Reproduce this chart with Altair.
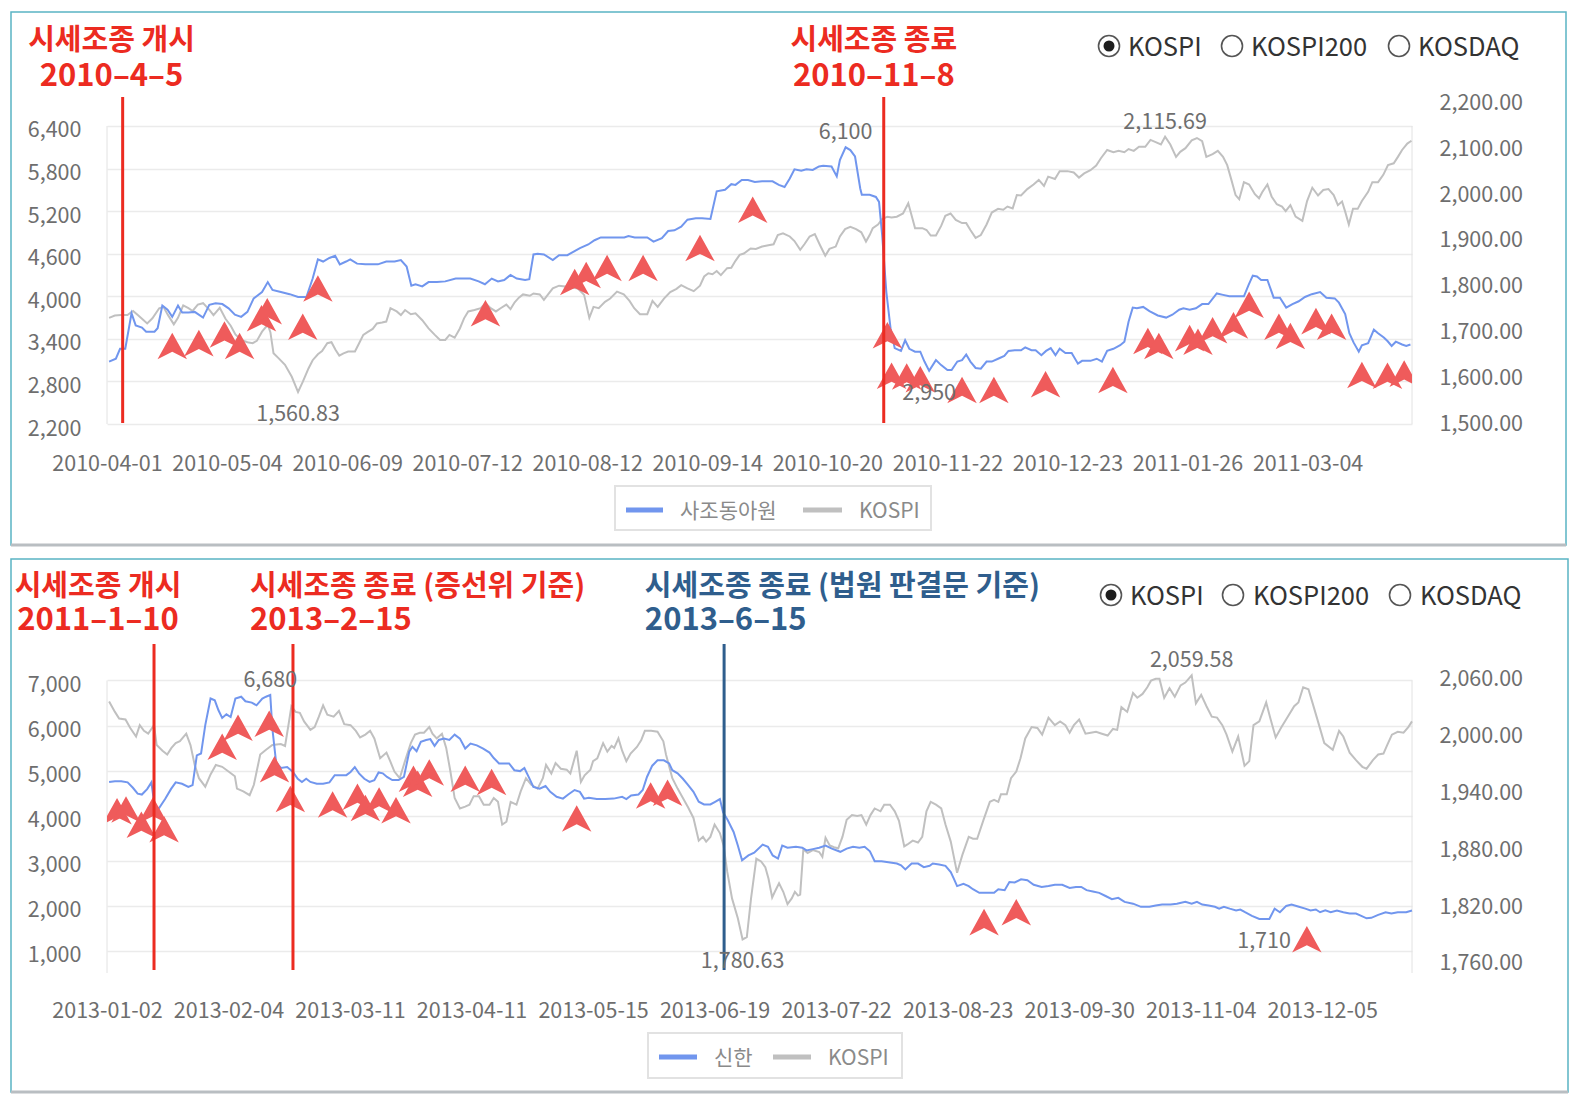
import json
import altair as alt
import pandas as pd

FONT = "Noto Sans CJK KR"
BLUE = "#7196ee"
GRAY = "#c0c0c0"
TRI = "#ef5b5b"
RED = "#ec2b21"
NAVY = "#2f5e8d"
TXT = "#6e6e6e"
FRAME = "#5ab4c4"
W = 1305
ARROW = "M0,-0.9L1,0.9L0,0.4L-1,0.9Z"

# ======================= Panel 1 : 사조동아원 (2010-04 ~ 2011-03) =======================
p1_tick_idx = [0, 23, 46, 69, 92, 115, 138, 161, 184, 207, 230]
p1_tick_lab = ["2010-04-01", "2010-05-04", "2010-06-09", "2010-07-12", "2010-08-12", "2010-09-14",
               "2010-10-20", "2010-11-22", "2010-12-23", "2011-01-26", "2011-03-04"]
p1_left_ticks = [2200, 2800, 3400, 4000, 4600, 5200, 5800, 6400]
p1_right_ticks = [1500, 1600, 1700, 1800, 1900, 2000, 2100, 2200]

p1_stock = [
    (0.4, 3080), (1.7, 3120), (2.5, 3260), (3.5, 3260), (4.7, 3760), (5.5, 3590), (6.7, 3560), (7.5, 3500),
    (9.1, 3500), (9.7, 3550), (10.6, 3870), (11.6, 3810), (12.5, 3710), (13.6, 3870), (14.4, 3770), (15.6, 3770),
    (16.8, 3780), (18.4, 3700), (19.6, 3880), (20.8, 3900), (22.1, 3890), (23.3, 3830), (24.5, 3740), (25.7, 3710),
    (26.9, 3780), (28.1, 3970), (29.7, 4060), (30.8, 4200), (31.7, 4090), (33.3, 4060), (35.0, 4030), (36.6, 3990),
    (38.2, 3990), (39.4, 4250), (40.4, 4520), (41.4, 4490), (42.6, 4540), (43.7, 4570), (44.6, 4450), (45.8, 4490),
    (46.6, 4520), (47.9, 4460), (49.5, 4450), (51.9, 4450), (53.5, 4490), (55.1, 4490), (56.3, 4510), (57.4, 4420),
    (58.3, 4150), (59.1, 4170), (60.4, 4140), (61.6, 4200), (63.2, 4200), (64.8, 4210), (66.8, 4250), (69.6, 4250),
    (71.2, 4210), (72.4, 4170), (73.7, 4250), (74.9, 4210), (76.1, 4230), (77.3, 4300), (78.5, 4250), (80.1, 4230),
    (80.9, 4240), (81.7, 4590), (82.5, 4600), (83.7, 4590), (85.4, 4510), (86.6, 4580), (88.2, 4580), (89.4, 4630),
    (90.6, 4680), (92.2, 4730), (93.4, 4790), (94.6, 4830), (96.2, 4830), (99.1, 4830), (99.9, 4850), (101.1, 4830),
    (103.5, 4830), (104.7, 4770), (106.3, 4820), (107.5, 4920), (108.7, 4930), (110.0, 4980), (111.2, 5080),
    (112.8, 5100), (114.0, 5100), (115.6, 5090), (116.8, 5480), (118.4, 5500), (119.6, 5580), (120.4, 5570),
    (121.6, 5640), (122.8, 5640), (124.1, 5610), (125.5, 5620), (127.5, 5620), (128.7, 5570), (129.8, 5540),
    (130.8, 5660), (131.7, 5790), (133.0, 5770), (134.0, 5790), (135.2, 5780), (136.4, 5830), (137.2, 5840),
    (138.8, 5830), (139.8, 5690), (140.4, 5920), (141.5, 6100), (142.4, 6060), (143.3, 5970), (144.3, 5520),
    (144.6, 5430), (146.1, 5430), (147.3, 5400), (147.9, 5330), (148.5, 4860), (149.3, 4060), (150.1, 3550),
    (150.9, 3270), (152.1, 3230), (152.9, 3380), (153.7, 3260), (154.8, 3220), (155.8, 3220), (156.6, 3080),
    (157.5, 2950), (158.8, 3100), (159.8, 3030), (161.0, 2960), (161.8, 2960), (162.9, 3080), (163.8, 3100),
    (164.6, 3180), (165.4, 3080), (166.4, 2990), (167.4, 2980), (168.5, 3080), (169.5, 3080), (170.7, 3120),
    (171.9, 3160), (172.7, 3230), (173.9, 3240), (175.1, 3240), (175.9, 3280), (177.1, 3240), (177.9, 3240),
    (179.0, 3170), (179.9, 3230), (180.8, 3270), (181.7, 3170), (182.5, 3260), (183.6, 3200), (184.8, 3200),
    (186.0, 3050), (186.8, 3090), (188.4, 3090), (189.6, 3120), (190.6, 3080), (191.6, 3230), (192.8, 3260),
    (194.1, 3310), (194.9, 3360), (195.7, 3640), (196.5, 3840), (197.3, 3830), (198.5, 3850), (199.7, 3790),
    (201.3, 3730), (202.9, 3700), (204.1, 3740), (205.4, 3810), (206.2, 3830), (207.4, 3810), (208.6, 3830),
    (209.8, 3890), (211.0, 3890), (212.6, 4040), (213.8, 4020), (215.0, 4000), (217.8, 4000), (218.7, 4160),
    (219.5, 4290), (220.3, 4280), (221.1, 4230), (222.3, 4230), (223.5, 3980), (224.7, 3980), (225.9, 3840),
    (227.1, 3890), (228.3, 3930), (229.5, 3990), (230.8, 4030), (232.4, 4060), (233.6, 3980), (235.2, 3970),
    (236.0, 3910), (237.2, 3750), (238.0, 3480), (238.8, 3350), (239.8, 3220), (240.4, 3310), (241.6, 3340),
    (242.7, 3530), (243.5, 3480), (244.6, 3420), (245.3, 3370), (246.1, 3300), (246.9, 3360), (248.1, 3320),
    (248.9, 3300), (249.7, 3320),
]

p1_kospi = [
    (0.4, 1722), (1.5, 1727), (2.7, 1728), (3.9, 1728), (5.0, 1737), (5.9, 1728), (6.7, 1720), (7.7, 1710),
    (8.7, 1721), (10.0, 1743), (10.8, 1746), (11.7, 1728), (12.8, 1708), (13.6, 1722), (14.6, 1749), (15.6, 1743),
    (16.4, 1737), (17.4, 1751), (18.4, 1754), (19.5, 1741), (20.4, 1728), (21.6, 1744), (22.7, 1720), (23.7, 1705),
    (24.6, 1686), (25.7, 1674), (26.9, 1669), (27.9, 1667), (28.7, 1672), (29.7, 1692), (30.8, 1707), (31.3, 1691),
    (31.9, 1645), (32.9, 1634), (34.1, 1620), (35.4, 1594), (36.6, 1560.83), (37.5, 1583), (38.6, 1612),
    (39.4, 1630), (40.4, 1643), (41.2, 1650), (42.2, 1667), (43.0, 1669), (43.8, 1652), (44.5, 1640), (45.3, 1645),
    (46.2, 1649), (47.5, 1649), (48.3, 1667), (49.1, 1685), (49.9, 1691), (50.9, 1698), (51.7, 1710), (52.7, 1712),
    (53.5, 1714), (54.3, 1743), (55.5, 1736), (56.3, 1728), (57.1, 1739), (58.2, 1730), (59.1, 1732), (60.4, 1717),
    (61.6, 1699), (62.8, 1685), (63.8, 1674), (64.8, 1674), (65.6, 1685), (66.6, 1679), (67.6, 1699), (68.4, 1721),
    (69.2, 1736), (70.4, 1739), (71.6, 1743), (72.5, 1754), (73.5, 1743), (74.5, 1736), (75.4, 1743), (76.5, 1751),
    (77.3, 1741), (78.1, 1756), (78.9, 1766), (79.7, 1773), (81.0, 1770), (81.7, 1775), (82.9, 1773), (83.7, 1761),
    (84.5, 1773), (85.4, 1786), (86.6, 1792), (87.8, 1790), (89.0, 1788), (90.2, 1786), (91.4, 1772), (92.4, 1722),
    (93.2, 1746), (94.2, 1743), (95.4, 1757), (96.4, 1764), (97.7, 1779), (99.0, 1773), (100.1, 1759),
    (101.0, 1743), (102.1, 1730), (103.5, 1730), (104.5, 1759), (105.5, 1746), (106.7, 1764), (107.9, 1778),
    (109.1, 1785), (110.0, 1793), (111.2, 1786), (112.4, 1780), (113.6, 1792), (114.4, 1812), (115.2, 1819),
    (116.0, 1817), (116.8, 1824), (117.6, 1815), (118.8, 1830), (119.6, 1831), (120.4, 1846), (121.2, 1859),
    (122.0, 1862), (123.3, 1873), (124.3, 1872), (125.5, 1877), (126.7, 1880), (127.7, 1882), (128.5, 1902),
    (129.5, 1906), (130.8, 1899), (131.7, 1889), (132.8, 1870), (133.6, 1882), (134.6, 1899), (135.6, 1904),
    (136.6, 1880), (137.6, 1857), (138.4, 1872), (139.6, 1877), (140.4, 1899), (141.4, 1915), (142.4, 1920),
    (143.5, 1915), (144.5, 1908), (145.4, 1888), (146.1, 1902), (146.7, 1917), (147.7, 1925), (148.5, 1937),
    (149.5, 1942), (150.3, 1940), (151.3, 1942), (152.5, 1949), (153.5, 1971), (154.3, 1938), (154.8, 1917),
    (156.2, 1917), (157.0, 1913), (157.8, 1901), (158.8, 1901), (159.8, 1922), (160.6, 1944), (161.6, 1949),
    (162.6, 1935), (163.8, 1928), (164.6, 1928), (165.4, 1913), (166.4, 1896), (167.4, 1902), (168.5, 1925),
    (169.5, 1951), (170.7, 1959), (171.7, 1957), (172.5, 1964), (173.5, 1960), (174.3, 1989), (175.1, 1988),
    (176.3, 2002), (177.5, 2012), (178.5, 2022), (179.5, 2009), (180.3, 2029), (181.6, 2024), (182.5, 2041),
    (184.0, 2041), (185.2, 2038), (186.2, 2027), (187.2, 2036), (188.4, 2043), (189.5, 2053), (190.4, 2069),
    (191.6, 2087), (192.8, 2082), (193.8, 2085), (194.9, 2082), (195.7, 2089), (196.7, 2085), (197.7, 2094),
    (198.9, 2094), (199.9, 2109), (200.9, 2104), (201.9, 2099), (202.7, 2115.69), (203.7, 2099), (204.8, 2072),
    (205.6, 2083), (206.6, 2091), (207.8, 2108), (208.8, 2113), (209.8, 2106), (210.6, 2072), (211.8, 2078),
    (212.8, 2085), (213.8, 2072), (214.6, 2054), (215.4, 2022), (216.2, 1989), (216.9, 1980), (217.8, 2017),
    (218.8, 2012), (219.9, 1991), (220.7, 1982), (221.3, 1995), (222.3, 2012), (223.1, 1986), (224.1, 1969),
    (225.1, 1964), (225.8, 1954), (226.7, 1967), (227.7, 1942), (229.0, 1933), (229.9, 1976), (230.9, 2005),
    (232.0, 1988), (233.0, 2000), (234.0, 2002), (235.0, 1989), (235.8, 1967), (236.6, 1975), (237.2, 1953),
    (237.9, 1925), (238.7, 1959), (239.6, 1959), (240.4, 1976), (241.6, 1996), (242.4, 2017), (243.5, 2017),
    (244.5, 2033), (245.4, 2054), (246.5, 2058), (247.3, 2072), (248.1, 2087), (249.1, 2101), (249.9, 2107),
]

p1_arrows = [
    (12.5, 3300), (17.6, 3340), (22.5, 3460), (25.4, 3300), (29.6, 3690), (30.7, 3790), (37.5, 3570),
    (40.4, 4110), (72.5, 3760), (89.6, 4200), (91.8, 4300), (95.8, 4400), (102.7, 4400), (113.6, 4680),
    (123.7, 5220), (149.5, 3450), (150.3, 2880), (153.2, 2870), (155.8, 2830), (163.8, 2680), (169.9, 2680),
    (179.8, 2760), (192.7, 2820), (199.4, 3370), (201.5, 3300), (207.4, 3410), (209.0, 3360), (211.8, 3520),
    (215.8, 3590), (218.8, 3880), (224.5, 3570), (226.7, 3440), (231.6, 3650), (234.6, 3570), (240.4, 2890),
    (245.3, 2880), (248.5, 2910),
]
p1_red_lines = [3.0, 148.8]
p1_stock_max = [(141.5, 6100, "6,100")]
p1_stock_min = [(157.5, 2950, "2,950")]
p1_kospi_max = [(202.7, 2115.69, "2,115.69")]
p1_kospi_min = [(36.6, 1560.83, "1,560.83")]
p1_notes = [(0.86, "시세조종 개시", "2010–4–5", RED, "center"),
            (146.9, "시세조종 종료", "2010–11–8", RED, "center")]
p1_series = ["사조동아원", "KOSPI"]

# ======================= Panel 2 : 신한 (2013) =======================
p2_tick_idx = [0, 23, 46, 69, 92, 115, 138, 161, 184, 207, 230]
p2_tick_lab = ["2013-01-02", "2013-02-04", "2013-03-11", "2013-04-11", "2013-05-15", "2013-06-19",
               "2013-07-22", "2013-08-23", "2013-09-30", "2013-11-04", "2013-12-05"]
p2_left_ticks = [1000, 2000, 3000, 4000, 5000, 6000, 7000]
p2_right_ticks = [1760, 1820, 1880, 1940, 2000, 2060]

p2_stock = [
    (0.4, 4750), (1.5, 4765), (2.7, 4765), (3.9, 4740), (4.9, 4620), (5.8, 4490), (6.6, 4470), (7.6, 4590),
    (8.4, 4740), (9.0, 4230), (9.8, 4160), (11.0, 4370), (12.1, 4590), (13.0, 4740), (14.2, 4710), (15.4, 4640),
    (16.2, 4680), (17.0, 5340), (17.8, 5380), (18.6, 6010), (19.6, 6600), (20.4, 6560), (21.1, 6340), (21.8, 6170),
    (22.6, 6250), (23.4, 6190), (24.3, 6600), (25.4, 6640), (26.2, 6540), (27.4, 6510), (28.3, 6450), (29.4, 6600),
    (30.1, 6640), (30.9, 6680), (31.3, 5930), (32.0, 5190), (32.9, 5060), (34.1, 5080), (35.2, 4970), (36.1, 4820),
    (36.9, 4750), (37.7, 4820), (38.5, 4750), (39.7, 4710), (40.9, 4710), (42.1, 4740), (43.1, 4900), (44.1, 4900),
    (45.3, 4900), (46.1, 4970), (46.9, 5080), (47.7, 4940), (48.7, 4820), (49.7, 4750), (50.6, 4790), (51.4, 4960),
    (52.2, 4940), (53.0, 4860), (54.0, 4790), (55.2, 4790), (56.2, 4860), (57.2, 5420), (57.8, 5530), (58.6, 5430),
    (59.4, 5640), (60.4, 5680), (61.2, 5700), (62.0, 5550), (62.8, 5680), (63.8, 5710), (64.8, 5680), (65.8, 5800),
    (66.8, 5710), (67.8, 5490), (68.8, 5600), (70.0, 5560), (71.2, 5490), (72.4, 5400), (73.2, 5280), (74.2, 5160),
    (75.2, 5160), (76.1, 5160), (77.1, 5010), (78.2, 4990), (79.0, 5060), (79.9, 4840), (80.7, 4640), (81.9, 4600),
    (83.0, 4660), (83.9, 4530), (85.1, 4420), (86.3, 4380), (87.3, 4470), (88.5, 4570), (89.5, 4530), (90.3, 4380),
    (91.2, 4400), (92.7, 4370), (94.3, 4370), (95.9, 4380), (97.5, 4420), (98.3, 4370), (99.2, 4450), (100.6, 4470),
    (101.4, 4570), (102.2, 4860), (103.2, 5110), (104.2, 5230), (105.4, 5230), (106.4, 5160), (107.0, 5010),
    (108.0, 4940), (109.0, 4820), (110.0, 4680), (111.0, 4530), (112.0, 4310), (113.0, 4250), (114.2, 4250),
    (115.1, 4310), (116.0, 4370), (116.6, 4080), (117.5, 3900), (118.6, 3640), (119.4, 3340), (120.2, 3010),
    (121.4, 3120), (122.5, 3180), (124.1, 3360), (125.1, 3310), (126.0, 3120), (127.0, 3050), (127.8, 3340),
    (128.8, 3290), (130.4, 3310), (131.6, 3290), (132.4, 3230), (133.6, 3260), (134.8, 3290), (136.0, 3340),
    (137.2, 3270), (138.8, 3200), (140.0, 3270), (141.2, 3310), (142.4, 3290), (143.4, 3310), (144.4, 3210),
    (145.3, 2990), (146.6, 2990), (147.9, 2970), (149.5, 2940), (150.3, 2900), (151.1, 2810), (152.3, 2940),
    (153.5, 2940), (154.6, 2860), (155.7, 2890), (156.3, 2940), (157.5, 2920), (158.7, 2890), (159.7, 2750),
    (160.3, 2600), (160.9, 2440), (162.1, 2490), (163.1, 2440), (163.9, 2370), (165.1, 2290), (166.3, 2290),
    (167.9, 2290), (168.7, 2370), (169.9, 2350), (170.8, 2530), (171.8, 2520), (173.0, 2590), (174.2, 2570),
    (175.4, 2470), (176.9, 2420), (178.2, 2440), (179.4, 2470), (180.8, 2470), (182.2, 2400), (183.4, 2420),
    (184.4, 2420), (185.4, 2350), (186.6, 2320), (187.8, 2290), (189.0, 2220), (190.2, 2150), (191.4, 2180),
    (192.6, 2090), (194.2, 2050), (195.7, 1980), (197.3, 1980), (198.5, 2010), (199.7, 2030), (201.3, 2030),
    (202.5, 2050), (204.1, 2090), (205.3, 2050), (206.3, 2090), (207.3, 2030), (208.5, 2010), (209.7, 1980),
    (210.5, 1940), (211.4, 1980), (212.5, 1940), (213.7, 1900), (214.5, 1920), (215.4, 1860), (216.7, 1780),
    (218.1, 1710), (220.0, 1710), (221.0, 1940), (222.0, 1860), (223.2, 2000), (224.2, 2030), (225.6, 1980),
    (226.8, 1940), (227.8, 1900), (228.8, 1920), (229.6, 1860), (230.6, 1900), (231.6, 1860), (232.8, 1900),
    (234.0, 1860), (235.2, 1830), (236.4, 1830), (237.4, 1780), (238.4, 1725), (239.3, 1735), (240.6, 1800),
    (242.0, 1860), (243.1, 1830), (244.3, 1860), (245.9, 1860), (247.0, 1900),
]

p2_kospi = [
    (0.4, 2032), (1.5, 2021), (2.3, 2014), (3.5, 2013), (4.4, 2004), (5.5, 1995), (6.2, 2007), (7.0, 2001),
    (7.8, 1998), (8.9, 2007), (9.4, 1986), (10.5, 1980), (11.4, 1976), (12.2, 1983), (13.0, 1988), (13.8, 1990),
    (15.0, 1998), (15.8, 1986), (16.6, 1965), (17.4, 1951), (18.6, 1942), (19.6, 1955), (20.6, 1965), (21.8, 1963),
    (23.0, 1958), (24.2, 1953), (24.6, 1940), (25.8, 1937), (27.0, 1933), (27.8, 1944), (29.0, 1976), (30.1, 1981),
    (31.3, 1986), (32.9, 1987), (33.7, 1985), (34.4, 2009), (34.9, 2027), (35.7, 2021), (36.5, 2020), (37.3, 2011),
    (38.5, 2002), (39.3, 2005), (40.1, 2016), (40.9, 2028), (41.7, 2018), (42.9, 2016), (43.9, 2022), (44.9, 2008),
    (46.1, 2007), (47.1, 2001), (47.9, 1994), (48.9, 1997), (49.8, 2001), (50.6, 1993), (51.7, 1972), (52.9, 1978),
    (53.6, 1969), (54.4, 1958), (55.4, 1951), (56.4, 1969), (57.5, 1988), (58.3, 1997), (59.2, 1999), (60.0, 1999),
    (61.0, 2005), (61.6, 1998), (62.4, 1993), (63.4, 1998), (64.2, 1983), (65.0, 1958), (65.8, 1930), (66.8, 1919),
    (67.8, 1921), (68.6, 1923), (69.4, 1932), (70.4, 1932), (71.3, 1923), (72.4, 1923), (73.2, 1930), (74.0, 1926),
    (74.8, 1902), (75.6, 1905), (76.4, 1926), (77.5, 1923), (78.3, 1937), (79.3, 1951), (80.3, 1944), (81.5, 1940),
    (82.5, 1951), (83.1, 1965), (84.1, 1956), (84.9, 1967), (85.9, 1961), (87.0, 1960), (87.7, 1956), (88.9, 1980),
    (89.7, 1947), (90.4, 1954), (91.5, 1960), (92.0, 1969), (92.8, 1972), (93.9, 1988), (94.7, 1979), (95.5, 1985),
    (96.0, 1983), (96.8, 1993), (97.5, 1980), (98.3, 1969), (99.1, 1977), (100.3, 1984), (101.1, 1991),
    (101.8, 2001), (103.0, 2001), (104.2, 2000), (105.3, 1990), (105.8, 1976), (107.0, 1951), (108.0, 1940),
    (109.0, 1930), (110.0, 1920), (111.0, 1909), (112.0, 1885), (112.8, 1889), (113.4, 1884), (114.2, 1889),
    (115.0, 1902), (116.0, 1893), (116.7, 1880), (117.4, 1852), (118.3, 1824), (119.4, 1803), (120.3, 1780.63),
    (121.1, 1783), (121.9, 1824), (122.9, 1866), (123.8, 1863), (124.6, 1857), (125.2, 1845), (125.9, 1825),
    (126.4, 1831), (127.2, 1840), (128.0, 1831), (128.8, 1818), (129.6, 1824), (130.2, 1831), (130.8, 1827),
    (131.2, 1828), (131.8, 1876), (132.6, 1872), (133.6, 1875), (134.8, 1873), (135.4, 1868), (136.0, 1888),
    (136.8, 1880), (137.6, 1878), (138.4, 1877), (139.2, 1889), (140.0, 1907), (141.0, 1912), (142.0, 1911),
    (142.8, 1912), (143.7, 1902), (144.5, 1912), (145.3, 1919), (146.4, 1916), (147.1, 1923), (148.2, 1923),
    (149.1, 1916), (149.9, 1906), (150.9, 1879), (151.5, 1881), (152.5, 1885), (153.5, 1883), (154.3, 1889),
    (155.1, 1916), (155.9, 1926), (156.9, 1923), (157.9, 1919), (158.7, 1902), (159.7, 1884), (160.9, 1851),
    (161.9, 1870), (163.1, 1889), (163.9, 1887), (164.7, 1887), (165.9, 1907), (167.1, 1926), (167.9, 1928),
    (168.7, 1926), (169.2, 1934), (170.3, 1934), (171.1, 1951), (172.1, 1958), (172.9, 1972), (173.8, 1993),
    (175.0, 2005), (176.1, 2004), (177.0, 1997), (178.2, 2015), (179.4, 2007), (180.4, 2011), (181.4, 2007),
    (182.2, 1999), (183.0, 2007), (184.0, 2013), (185.2, 1998), (186.2, 1999), (187.2, 2000), (188.3, 1998),
    (189.4, 1996), (190.4, 2003), (191.2, 2002), (192.0, 2026), (193.1, 2021), (194.2, 2041), (195.0, 2036),
    (196.0, 2040), (196.9, 2047), (197.6, 2054), (198.5, 2056), (199.2, 2056), (200.1, 2036), (201.1, 2046),
    (202.1, 2037), (203.2, 2049), (204.1, 2052), (205.3, 2059.58), (206.1, 2030), (207.1, 2039), (208.1, 2027),
    (209.1, 2016), (210.1, 2015), (211.1, 2007), (211.9, 1997), (213.0, 1979), (214.1, 1995), (215.3, 1964),
    (216.2, 1969), (217.0, 2007), (218.1, 2011), (219.4, 2031), (220.2, 2014), (221.2, 1994), (222.3, 2005),
    (223.4, 2015), (224.7, 2027), (225.5, 2031), (226.4, 2047), (227.4, 2045), (228.2, 2030), (229.2, 2011),
    (230.4, 1988), (232.0, 1981), (233.2, 2001), (234.0, 1995), (235.2, 1978), (236.4, 1970), (237.6, 1963),
    (238.4, 1961), (239.6, 1970), (240.6, 1976), (241.6, 1977), (242.3, 1986), (243.2, 1997), (244.3, 2000),
    (245.4, 1999), (246.3, 2005), (247.0, 2011),
]

p2_arrows = [
    (1.9, 4100), (3.6, 4140), (6.5, 3800), (8.7, 4120), (10.8, 3700), (21.8, 5530), (24.8, 5950), (30.7, 6040),
    (31.7, 5030), (34.7, 4370), (42.7, 4250), (47.4, 4420), (48.9, 4170), (51.5, 4340), (54.7, 4120), (58.0, 4820),
    (58.8, 4710), (61.0, 4960), (67.8, 4820), (72.8, 4750), (88.9, 3940), (102.9, 4450), (106.1, 4510),
    (166.0, 1640), (172.1, 1860), (227.1, 1260),
]
p2_red_lines = [8.9, 35.2]
p2_navy_lines = [116.8]
p2_stock_max = [(30.9, 6680, "6,680")]
p2_stock_min = [(219.0, 1710, "1,710")]
p2_kospi_max = [(205.3, 2059.58, "2,059.58")]
p2_kospi_min = [(120.3, 1780.63, "1,780.63")]
p2_notes = [(-1.7, "시세조종 개시", "2011–1–10", RED, "center"),
            (27.07, "시세조종 종료 (증선위 기준)", "2013–2–15", RED, "left"),
            (101.8, "시세조종 종료 (법원 판결문 기준)", "2013–6–15", NAVY, "left")]
p2_series = ["신한", "KOSPI"]

radio_labels = ["KOSPI", "KOSPI200", "KOSDAQ"]

one = pd.DataFrame({"d": [0]})


def pairs(p):
    return pd.DataFrame(p, columns=["i", "v"])


def labels(p):
    return pd.DataFrame(p, columns=["i", "v", "t"])


def panel(c):
    H = c["H"]
    xs = alt.Scale(domain=c["xdom"], nice=False, zero=False)
    ls = alt.Scale(domain=c["ldom"], nice=False, zero=False)
    rs = alt.Scale(domain=c["rdom"], nice=False, zero=False)
    lab_expr = f"{json.dumps(c['tick_lab'], ensure_ascii=False)}[indexof({json.dumps(c['tick_idx'])}, datum.value)]"
    xaxis = alt.Axis(values=c["tick_idx"], labelExpr=lab_expr, title=None, grid=False, domain=False,
                     ticks=False, tickSize=0, labelFont=FONT, labelFontSize=21.5, labelColor=TXT,
                     labelPadding=c["xpad"], labelBaseline="middle", labelAngle=0, labelFlush=False,
                     labelOverlap=False)
    X = alt.X("i:Q", scale=xs, axis=xaxis)
    left_axis = alt.Axis(orient="left", values=c["lticks"], format=",.0f", title=None, grid=True,
                         gridColor="#ebebeb", gridWidth=1.3, domain=False, ticks=False, tickSize=0,
                         labelFont=FONT, labelFontSize=21.5, labelColor=TXT, labelPadding=26,
                         labelOffset=5, labelFlush=False)
    right_axis = alt.Axis(orient="right", values=c["rticks"], format=",.2f", title=None, grid=False,
                          domain=False, ticks=False, tickSize=0, labelFont=FONT, labelFontSize=21.5,
                          labelColor=TXT, labelPadding=27, labelOffset=5, labelFlush=False)
    L = []
    if "canvas" in c:
        cv = c["canvas"]
        L.append(alt.Chart(one).mark_rect(opacity=0).encode(
            x=alt.value(cv[0]), x2=alt.value(cv[1]), y=alt.value(cv[2]), y2=alt.value(cv[3])))
    f = c["frame"]
    L.append(alt.Chart(one).mark_rect(fill="transparent", stroke=FRAME, strokeWidth=1.5).encode(
        x=alt.value(f[0]), x2=alt.value(f[1]), y=alt.value(f[2]), y2=alt.value(f[3])))
    L.append(alt.Chart(one).mark_rule(color="#b9bec2", strokeWidth=3).encode(
        x=alt.value(f[0]), x2=alt.value(f[1]), y=alt.value(f[3])))
    for xv in (0, W):
        L.append(alt.Chart(one).mark_rule(color="#e2e2e2", strokeWidth=1).encode(
            x=alt.value(xv), y=alt.value(c["axis_top"]), y2=alt.value(H)))
    # lines
    L.append(alt.Chart(pairs(c["kospi"])).mark_line(color=GRAY, strokeWidth=2).encode(
        x=X, y=alt.Y("v:Q", scale=rs, axis=right_axis)))
    L.append(alt.Chart(pairs(c["stock"])).mark_line(color=BLUE, strokeWidth=2).encode(
        x=X, y=alt.Y("v:Q", scale=ls, axis=left_axis)))
    # arrow markers
    L.append(alt.Chart(pairs(c["arrows"])).mark_point(
        shape=ARROW, size=870, filled=True, color=TRI, opacity=1, strokeWidth=0, clip=True).encode(
        x=X, y=alt.Y("v:Q", scale=ls, axis=None)))
    # vertical annotation lines
    vt, vb = c["vline"]
    for col, key in ((RED, "red_lines"), (NAVY, "navy_lines")):
        if c.get(key):
            L.append(alt.Chart(pd.DataFrame({"i": c[key]})).mark_rule(color=col, strokeWidth=3).encode(
                x=X, y=alt.value(vt), y2=alt.value(vb)))
    # extreme labels
    for key, sc, dy in (("smax", ls, -14), ("smin", ls, 23), ("kmax", rs, -14), ("kmin", rs, 23)):
        L.append(alt.Chart(labels(c[key])).mark_text(
            font=FONT, fontSize=21.5, color=TXT, dy=dy, baseline="middle").encode(
            x=X, y=alt.Y("v:Q", scale=sc, axis=None), text="t:N"))
    # annotation texts
    y1, y2 = c["note_y"]
    for (xi, t1, t2, col, al) in c["notes"]:
        d = pd.DataFrame({"i": [xi], "t1": [t1], "t2": [t2]})
        L.append(alt.Chart(d).mark_text(font=FONT, fontSize=29, fontWeight="bold", color=col,
                                        align=al, baseline="middle").encode(
            x=X, y=alt.value(y1), text="t1:N"))
        L.append(alt.Chart(d).mark_text(font=FONT, fontSize=31, fontWeight="bold", color=col,
                                        align=al, baseline="middle").encode(
            x=X, y=alt.value(y2), text="t2:N"))
    # radio buttons
    ry = c["radio_y"]
    for k, lab in enumerate(radio_labels):
        cx = c["radio_cx"][k]
        L.append(alt.Chart(one).mark_point(shape="circle", size=441, filled=False, color="#555555",
                                           strokeWidth=1.6, opacity=1).encode(
            x=alt.value(cx), y=alt.value(ry)))
        if k == 0:
            L.append(alt.Chart(one).mark_point(shape="circle", size=121, filled=True, color="#1e1e1e",
                                               opacity=1).encode(x=alt.value(cx), y=alt.value(ry)))
        L.append(alt.Chart(pd.DataFrame({"t": [lab]})).mark_text(
            font=FONT, fontSize=25.5, color="#333333", align="left", baseline="middle").encode(
            x=alt.value(c["radio_tx"][k]), y=alt.value(ry + 1.5), text="t:N"))
    # bottom legend
    lg = c["legend"]
    L.append(alt.Chart(one).mark_rect(fill="white", stroke="#e2e2e2", strokeWidth=2).encode(
        x=alt.value(lg["box"][0]), x2=alt.value(lg["box"][1]),
        y=alt.value(lg["box"][2]), y2=alt.value(lg["box"][3])))
    for k, col in enumerate((BLUE, GRAY)):
        sx = lg["sw"][k]
        L.append(alt.Chart(one).mark_rule(color=col, strokeWidth=5).encode(
            x=alt.value(sx[0]), x2=alt.value(sx[1]), y=alt.value(lg["y"])))
        L.append(alt.Chart(pd.DataFrame({"t": [c["series"][k]]})).mark_text(
            font=FONT, fontSize=21, color="#8a8a8a", align="left", baseline="middle").encode(
            x=alt.value(lg["tx"][k]), y=alt.value(lg["y"] + 1.5), text="t:N"))
    return alt.layer(*L).resolve_scale(y="independent").properties(width=W, height=H)


cfg1 = dict(
    H=328, xdom=[0, 250], ldom=[2200, 6822.8], rdom=[1491.3, 2204.35],
    tick_idx=p1_tick_idx, tick_lab=p1_tick_lab, lticks=p1_left_ticks, rticks=p1_right_ticks,
    xpad=40, stock=p1_stock, kospi=p1_kospi, arrows=p1_arrows,
    red_lines=p1_red_lines, navy_lines=[], vline=(1, 327),
    smax=p1_stock_max, smin=p1_stock_min, kmax=p1_kospi_max, kmin=p1_kospi_min,
    notes=p1_notes, note_y=(-55, -19.5),
    radio_y=-50, radio_cx=[1002, 1125, 1292], radio_tx=[1021, 1144, 1311],
    legend=dict(box=(508, 824, 390, 434), sw=[(519, 556), (696, 735)], tx=[573, 752], y=414),
    series=p1_series, frame=(-96, 1459, -84, 449), axis_top=30,
    canvas=(-107, 1469, -96, 1006),
)
cfg2 = dict(
    H=300, xdom=[0, 247], ldom=[512, 7166], rdom=[1745.2, 2062.1],
    tick_idx=p2_tick_idx, tick_lab=p2_tick_lab, lticks=p2_left_ticks, rticks=p2_right_ticks,
    xpad=38, stock=p2_stock, kospi=p2_kospi, arrows=p2_arrows,
    red_lines=p2_red_lines, navy_lines=p2_navy_lines, vline=(-29, 297),
    smax=p2_stock_max, smin=p2_stock_min, kmax=p2_kospi_max, kmin=p2_kospi_min,
    notes=p2_notes, note_y=(-86, -52.5),
    radio_y=-78, radio_cx=[1004, 1126, 1293], radio_tx=[1023, 1146, 1313],
    legend=dict(box=(541, 795, 360, 405), sw=[(552, 590), (666, 704)], tx=[607, 721], y=384),
    series=p2_series, frame=(-96, 1461, -114, 419), axis_top=7.5,
)

chart = alt.vconcat(panel(cfg1), panel(cfg2), spacing=249, bounds="flush", padding=0).configure_view(
    strokeWidth=0)

chart.save("out.html", embed_options={"renderer": "svg", "actions": False})
